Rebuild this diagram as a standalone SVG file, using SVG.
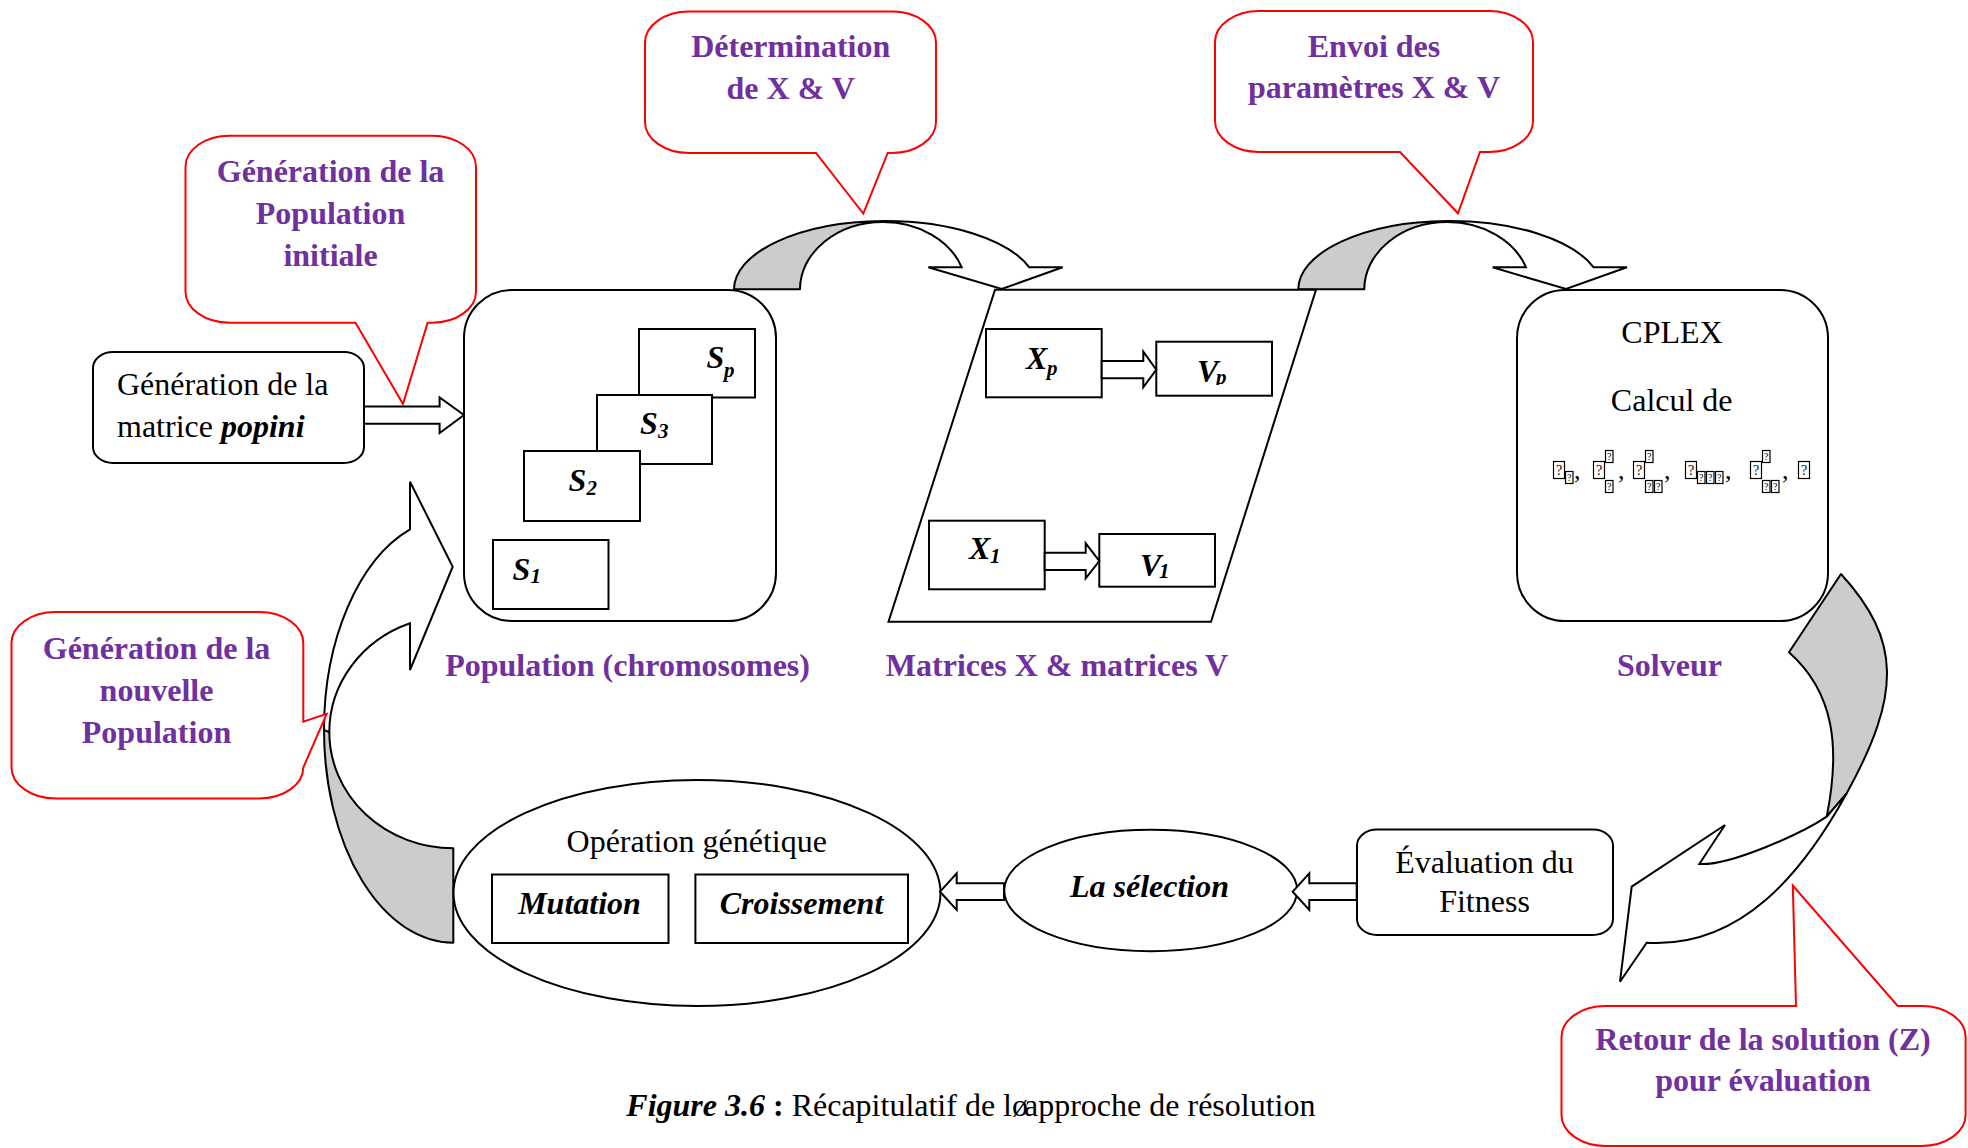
<svg xmlns="http://www.w3.org/2000/svg" xmlns:xlink="http://www.w3.org/1999/xlink" width="1968" height="1148" viewBox="0 0 1968 1148">
  <style>
    text { font-family: "Liberation Serif", "Times New Roman", serif; }
    .box { fill: #fff; stroke: #000; stroke-width: 2; }
    .call { fill: #fff; stroke: #ff0000; stroke-width: 2; stroke-linejoin: miter; }
    .shade { fill: #cccccc; stroke: #000; stroke-width: 2; stroke-linejoin: round; }
    .band { fill: #fff; stroke: #000; stroke-width: 2; stroke-linejoin: miter; }
    .blk { fill: #fff; stroke: #000; stroke-width: 2; stroke-linejoin: miter; }
    .lbl { font-size: 32px; font-weight: bold; fill: #7030a0; text-anchor: middle; }
    .txt { font-size: 32px; fill: #000; }
    .mid { text-anchor: middle; }
    .bi { font-weight: bold; font-style: italic; }
    .sub { font-size: 21px; }
    .tq { font-size: 14px; text-anchor: middle; fill: #000; }
    .tqs { font-size: 10px; text-anchor: middle; fill: #000; }
  </style>
  <defs>
    <!-- missing-glyph boxes of the formula line -->
    <g id="tq"><rect x="0.5" y="0.5" width="11" height="17" fill="#fff" stroke="#000" stroke-width="1.2"/><text class="tq" x="6" y="14">?</text></g>
    <g id="tqs"><rect x="0.5" y="0.5" width="7.5" height="12" fill="#fff" stroke="#000" stroke-width="1.2"/><text class="tqs" x="4.2" y="10.3">?</text></g>
    <clipPath id="vpclip"><rect x="1150" y="330" width="130" height="55"/></clipPath>
    <!-- curved down arrow: shaded back part and white band with its head -->
    <g id="curvedDown">
      <path class="shade" d="M734,289.3 A151.7,68.3 0 0 1 883.2,221 L883.2,222 A83.2,67.3 0 0 0 800,289.3 Z"/>
      <path class="band" d="M883.2,221 A151.7,68.3 0 0 1 1029.3,267.3 L1062.7,267.3 L1001.7,289 L928.3,267.3 L961.7,267.3 A83.2,67.3 0 0 0 883.2,222 Z"/>
    </g>
  </defs>

  <rect x="0" y="0" width="1968" height="1148" fill="#fff"/>

  <!-- connectors -->
  <g id="connectors">
    <!-- popini -> population -->
    <polygon class="blk" points="364,406.5 439.6,406.5 439.6,397.5 464,415 439.6,433 439.6,423.7 364,423.7"/>
    <!-- population -> matrices -->
    <use xlink:href="#curvedDown" href="#curvedDown"/>
    <!-- matrices -> solver -->
    <use xlink:href="#curvedDown" href="#curvedDown" transform="translate(564.3,0)"/>
    <!-- solver -> evaluation -->
    <path class="shade" d="M1841,574 C1901,640 1901.7,693.3 1846.7,793.3 L1826.7,816.7 C1840.7,746.7 1834,692.3 1789,652.3 Z"/>
    <path class="band" d="M1846.7,793.3 C1803.8,871.3 1741.7,948.7 1646.7,942.7 L1620,981.7 L1631.7,886.7 L1725,825 L1699.3,864 C1729.3,866 1801.7,833.7 1826.7,816.7 Z"/>
    <!-- genetic operation -> population -->
    <path class="shade" d="M453.3,942.7 A129.3,212.9 0 0 1 324,729.8 L329.3,732.1 A124,116.2 0 0 0 453.3,848.3 Z"/>
    <path class="band" d="M324,729.8 A129.3,212.9 0 0 1 410,529.3 L410,481.7 L452.7,566.7 L410,670 L410,623.3 A124,116.2 0 0 0 329.3,732.1 Z"/>
  </g>

  <!-- matrix generation box -->
  <g id="node-popini">
    <rect class="box" x="93" y="352" width="271" height="111" rx="20" ry="16"/>
    <text class="txt" x="117" y="395">Génération de la</text>
    <text class="txt" x="117" y="436.5">matrice <tspan class="bi">popini</tspan></text>
  </g>

  <!-- population of chromosomes -->
  <g id="node-population">
    <rect class="box" x="464" y="290" width="312" height="331" rx="48" ry="48"/>
    <rect class="box" x="639" y="329" width="116" height="68.5"/>
    <rect class="box" x="597" y="395" width="115" height="69"/>
    <rect class="box" x="524" y="451" width="116" height="70"/>
    <rect class="box" x="493" y="540" width="115.5" height="69"/>
    <text class="txt bi" x="706.4" y="368">S<tspan class="sub" x="724" y="376.7">p</tspan></text>
    <text class="txt bi" x="640" y="433.7">S<tspan class="sub" x="658" y="438">3</tspan></text>
    <text class="txt bi" x="568.6" y="491.3">S<tspan class="sub" x="586.5" y="495.3">2</tspan></text>
    <text class="txt bi" x="512.6" y="579.5">S<tspan class="sub" x="530.4" y="583">1</tspan></text>
    <text class="lbl" x="627.6" y="676">Population (chromosomes)</text>
  </g>

  <!-- X and V matrices -->
  <g id="node-matrices">
    <polygon class="box" points="995,289.7 1316,289.7 1211,621.7 888.5,621.7"/>
    <rect class="box" x="986" y="329" width="115.7" height="68.3"/>
    <rect class="box" x="1156.3" y="341.7" width="115.7" height="54"/>
    <rect class="box" x="929" y="520.7" width="115.7" height="68.6"/>
    <rect class="box" x="1099.3" y="534" width="115.7" height="52.7"/>
    <polygon class="blk" points="1101.7,361 1143.3,361 1143.3,351.7 1156.3,369.7 1143.3,387.3 1143.3,378.3 1101.7,378.3"/>
    <polygon class="blk" points="1044.7,552.7 1085.7,552.7 1085.7,543.3 1099.3,561 1085.7,578.3 1085.7,570 1044.7,570"/>
    <text class="txt bi" x="1026" y="369">X<tspan class="sub" x="1047" y="375">p</tspan></text>
    <text class="txt bi" x="1197" y="381.7" clip-path="url(#vpclip)">V<tspan class="sub" x="1216" y="384">p</tspan></text>
    <text class="txt bi" x="969" y="559.3">X<tspan class="sub" x="990" y="563.3">1</tspan></text>
    <text class="txt bi" x="1140" y="576">V<tspan class="sub" x="1159" y="578">1</tspan></text>
    <text class="lbl" x="1057" y="676">Matrices X &amp; matrices V</text>
  </g>

  <!-- solver -->
  <g id="node-solver">
    <rect class="box" x="1517" y="290" width="311" height="331" rx="48" ry="48"/>
    <text class="txt mid" x="1672" y="342.7">CPLEX</text>
    <text class="txt mid" x="1671.7" y="410.7">Calcul de</text>
    <g id="formula">
      <use xlink:href="#tq" href="#tq" x="1553" y="461"/>
      <use xlink:href="#tqs" href="#tqs" x="1565" y="471"/>
      <text x="1574" y="479" font-size="26">,</text>
      <use xlink:href="#tq" href="#tq" x="1593" y="461"/>
      <use xlink:href="#tqs" href="#tqs" x="1605" y="450"/>
      <use xlink:href="#tqs" href="#tqs" x="1605" y="480"/>
      <text x="1618" y="479" font-size="26">,</text>
      <use xlink:href="#tq" href="#tq" x="1633" y="461"/>
      <use xlink:href="#tqs" href="#tqs" x="1645" y="450"/>
      <use xlink:href="#tqs" href="#tqs" x="1645" y="480"/>
      <use xlink:href="#tqs" href="#tqs" x="1654" y="480"/>
      <text x="1664" y="479" font-size="26">,</text>
      <use xlink:href="#tq" href="#tq" x="1685" y="461"/>
      <use xlink:href="#tqs" href="#tqs" x="1697" y="471"/>
      <use xlink:href="#tqs" href="#tqs" x="1706" y="471"/>
      <use xlink:href="#tqs" href="#tqs" x="1715" y="471"/>
      <text x="1725" y="479" font-size="26">,</text>
      <use xlink:href="#tq" href="#tq" x="1750" y="461"/>
      <use xlink:href="#tqs" href="#tqs" x="1762" y="450"/>
      <use xlink:href="#tqs" href="#tqs" x="1762" y="480"/>
      <use xlink:href="#tqs" href="#tqs" x="1771" y="480"/>
      <text x="1782" y="479" font-size="26">,</text>
      <use xlink:href="#tq" href="#tq" x="1798" y="461"/>
    </g>
    <text class="lbl" x="1669.5" y="676">Solveur</text>
  </g>

  <!-- fitness evaluation -->
  <g id="node-evaluation">
    <rect class="box" x="1357" y="829.5" width="256" height="105.5" rx="20" ry="16"/>
    <text class="txt mid" x="1484.5" y="873">Évaluation du</text>
    <text class="txt mid" x="1484.5" y="912">Fitness</text>
  </g>

  <!-- selection -->
  <g id="node-selection">
    <ellipse class="box" cx="1150.7" cy="890.5" rx="146.5" ry="60.7"/>
    <text class="txt mid bi" x="1149.5" y="897">La sélection</text>
  </g>

  <!-- genetic operation -->
  <g id="node-genetic">
    <ellipse class="box" cx="697" cy="893" rx="243.5" ry="113"/>
    <text class="txt mid" x="696.7" y="852">Opération génétique</text>
    <rect class="box" x="492" y="874.5" width="176.5" height="68.5"/>
    <rect class="box" x="695.4" y="874.5" width="212.6" height="68.5"/>
    <text class="txt mid bi" x="579.5" y="914">Mutation</text>
    <text class="txt mid bi" x="801.5" y="914">Croissement</text>
  </g>

  <!-- arrows between the lower nodes -->
  <g id="connectors-lower">
    <polygon class="blk" points="1004,883.3 956.7,883.3 956.7,873.3 940,891.7 956.7,910 956.7,900 1004,900"/>
    <polygon class="blk" points="1356.7,883.3 1309.3,883.3 1309.3,873.3 1292.7,891.7 1309.3,910 1309.3,900 1356.7,900"/>
  </g>

  <!-- callouts -->
  <g id="callout-initiale">
    <path class="call" d="M229.5,135.7 H432 A44,31 0 0 1 476,166.7 V291.7 A44,31 0 0 1 432,322.7 H427.6 L403,404 L355.5,322.7 H229.5 A44,31 0 0 1 185.5,291.7 V166.7 A44,31 0 0 1 229.5,135.7 Z"/>
    <text class="lbl" x="330.5" y="182">Génération de la</text>
    <text class="lbl" x="330.5" y="224">Population</text>
    <text class="lbl" x="330.5" y="266">initiale</text>
  </g>
  <g id="callout-determination">
    <path class="call" d="M689,11.5 H892 A44,31 0 0 1 936,42.5 V122 A44,31 0 0 1 892,153 H887.7 L863.3,213.5 L816,153 H689 A44,31 0 0 1 645,122 V42.5 A44,31 0 0 1 689,11.5 Z"/>
    <text class="lbl" x="790.7" y="57">Détermination</text>
    <text class="lbl" x="790.7" y="98.5">de X &amp; V</text>
  </g>
  <g id="callout-envoi">
    <path class="call" d="M1259,11 H1489 A44,31 0 0 1 1533,42 V121 A44,31 0 0 1 1489,152 H1480 L1458,213.3 L1400,152 H1259 A44,31 0 0 1 1215,121 V42 A44,31 0 0 1 1259,11 Z"/>
    <text class="lbl" x="1374" y="57">Envoi des</text>
    <text class="lbl" x="1374" y="98">paramètres X &amp; V</text>
  </g>
  <g id="callout-nouvelle">
    <path class="call" d="M55.5,612 H259.3 A44,31 0 0 1 303.3,643 V721.6 L326.7,713.8 L303.3,767.5 A44,31 0 0 1 259.3,798.5 H55.5 A44,31 0 0 1 11.5,767.5 V643 A44,31 0 0 1 55.5,612 Z"/>
    <text class="lbl" x="156.5" y="659">Génération de la</text>
    <text class="lbl" x="156.5" y="701">nouvelle</text>
    <text class="lbl" x="156.5" y="743">Population</text>
  </g>
  <g id="callout-retour">
    <path class="call" d="M1605.5,1006 H1796 L1792.8,885.5 L1897.7,1006 H1921.6 A44,31 0 0 1 1965.6,1037 V1115 A44,31 0 0 1 1921.6,1146 H1605.5 A44,31 0 0 1 1561.5,1115 V1037 A44,31 0 0 1 1605.5,1006 Z"/>
    <text class="lbl" x="1763" y="1050">Retour de la solution (Z)</text>
    <text class="lbl" x="1763" y="1091">pour évaluation</text>
  </g>

  <!-- caption -->
  <text class="txt" x="626.3" y="1116"><tspan class="bi">Figure 3.6</tspan><tspan font-weight="bold"> :</tspan> Récapitulatif de lø<tspan dx="-4">approche de résolution</tspan></text>
</svg>
